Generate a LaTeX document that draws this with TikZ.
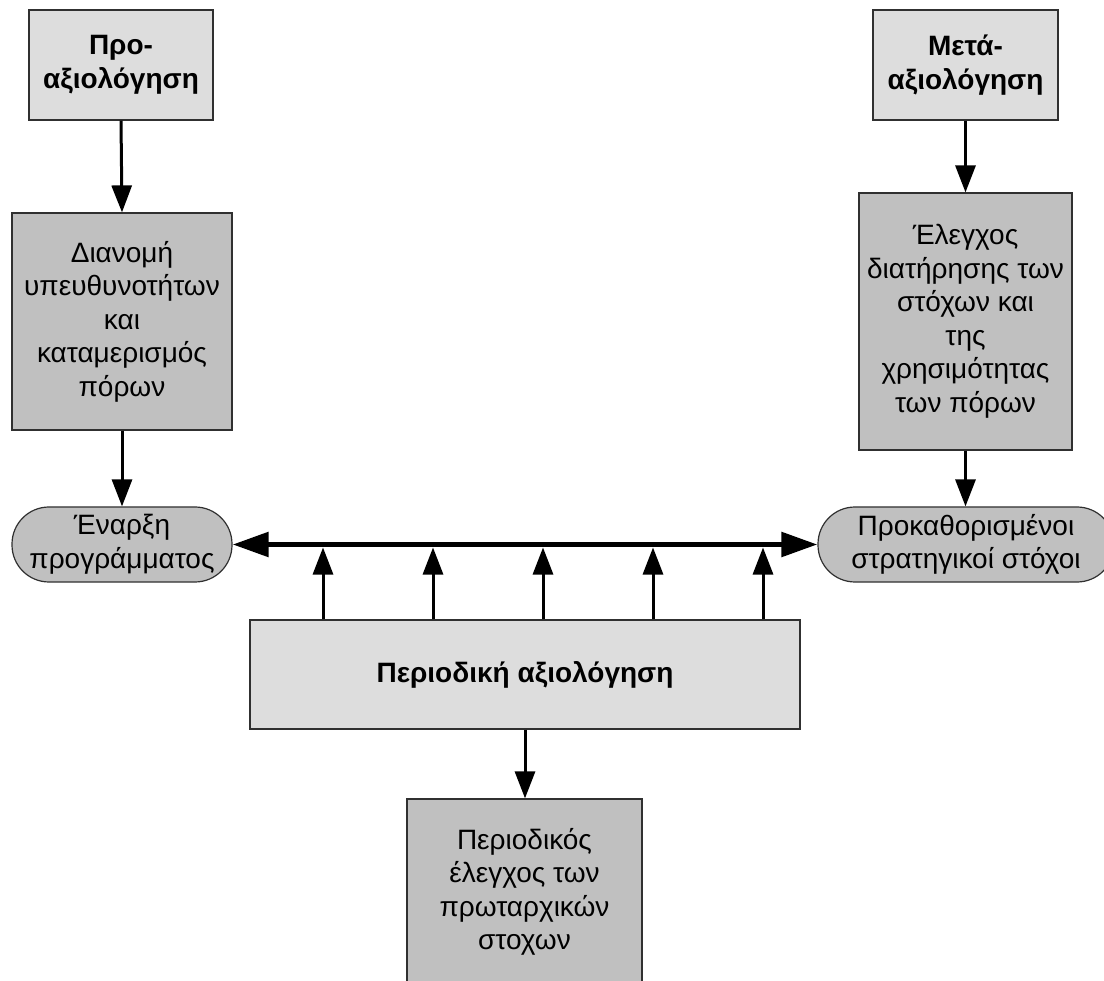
\documentclass[tikz,border=0pt]{standalone}
\usepackage{fontspec}
\setmainfont{Liberation Sans}
\usetikzlibrary{arrows.meta}
\definecolor{lightbox}{HTML}{DDDDDD}
\definecolor{darkbox}{HTML}{C0C0C0}
\definecolor{edge}{HTML}{303030}

\begin{document}
\begin{tikzpicture}[x=1pt,y=-1pt,
  box/.style={draw=edge, line width=1.2pt, inner sep=0pt, align=center,
              font=\fontsize{28}{33.5}\selectfont},
  lite/.style={box, fill=lightbox, font=\fontsize{28}{33.5}\selectfont\bfseries},
  dark/.style={box, fill=darkbox},
  pill/.style={dark, rounded corners=37pt},
  arr/.style={line width=3pt, -{Triangle[length=27pt,width=20pt]}},
  bus/.style={line width=5.5pt,
              {Triangle[length=36pt,width=24pt]}-{Triangle[length=36pt,width=24pt]}}]

\useasboundingbox (0,0) rectangle (1104,981);
\clip (0,0) rectangle (1104,981);

% evaluation phases
\node[lite, minimum width=184pt, minimum height=110pt] (pre)  at (121,65)    {Προ-\\αξιολόγηση};
\node[lite, minimum width=185pt, minimum height=110pt] (post) at (965.5,65)  {Μετά-\\αξιολόγηση};

% planning and checking boxes
\node[dark, minimum width=220pt, minimum height=217pt] (distr) at (122,321.5)
  {Διανομή\\υπευθυνοτήτων\\και\\καταμερισμός\\πόρων};
\node[dark, minimum width=213pt, minimum height=257pt] (check) at (965.5,321.5)
  {Έλεγχος\\διατήρησης των\\στόχων και\\της\\χρησιμότητας\\των πόρων};

% start and end of the programme
\node[pill, minimum width=220pt, minimum height=75pt] (start) at (122,544.5)
  {Έναρξη\\προγράμματος};
\node[pill, minimum width=296pt, minimum height=75pt] (goals) at (966,544.5)
  {Προκαθορισμένοι\\στρατηγικοί στόχοι};

% periodic evaluation
\node[lite, minimum width=550pt, minimum height=109pt] (periodic) at (525,674.5)
  {Περιοδική αξιολόγηση};
\node[dark, minimum width=235pt, minimum height=186pt] (primary) at (524.5,892)
  {Περιοδικός\\έλεγχος των\\πρωταρχικών\\στοχων};

% vertical flow
\draw[arr] (pre.south) -- (distr.north);
\draw[arr] (distr.south) -- (start.north);
\draw[arr] (post.south) -- (check.north);
\draw[arr] (check.south) -- (check.south |- goals.north);
\draw[arr] (periodic.south) -- (periodic.south |- primary.north);

% time line between start and goals
\draw[bus] (start.east) -- (goals.west);

% feedback from periodic evaluation onto the time line
\foreach \i/\x in {1/323,2/433,3/543,4/653,5/763} {
  \coordinate (b\i) at (\x,547.5);
  \draw[arr] (b\i |- periodic.north) -- (b\i);
}
\end{tikzpicture}
\end{document}
